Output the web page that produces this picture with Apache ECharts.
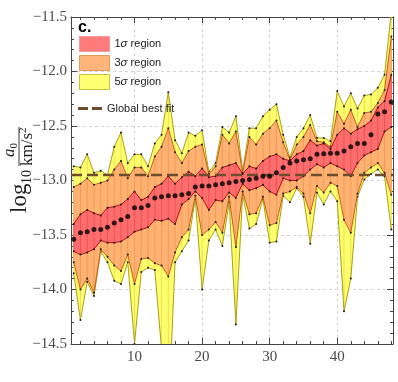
<!DOCTYPE html>
<html>
<head>
<meta charset="utf-8">
<style>
  html, body { margin: 0; padding: 0; background: #fff; }
  #chart { width: 398px; height: 382px; }
</style>
<script src="https://cdn.jsdelivr.net/npm/echarts@6/dist/echarts.min.js"></script>
</head>
<body>
<div id="chart"></div>
<script>
// galaxies, sorted by their best-fit a0
const galaxy = [1, 2, 3, 4, 5, 6, 7, 8, 9, 10, 11, 12, 13, 14, 15, 16,
  17, 18, 19, 20, 21, 22, 23, 24, 25, 26, 27, 28, 29, 30, 31, 32,
  33, 34, 35, 36, 37, 38, 39, 40, 41, 42, 43, 44, 45, 46, 47, 48];

// log10 a0 best fit per galaxy
const bestFit = [-13.54, -13.48, -13.47, -13.45, -13.45, -13.43, -13.39, -13.36, -13.33, -13.25, -13.25, -13.23, -13.16, -13.15, -13.14, -13.14,
  -13.13, -13.12, -13.06, -13.05, -13.05, -13.04, -13.03, -13.02, -13.01, -13.00, -12.99, -12.98, -12.96, -12.96, -12.93, -12.88,
  -12.84, -12.82, -12.81, -12.80, -12.76, -12.755, -12.75, -12.75, -12.73, -12.69, -12.66, -12.66, -12.58, -12.39, -12.37, -12.28];

// 1 sigma region
const sigma1Hi = [-13.40, -13.31, -13.27, -13.30, -13.32, -13.25, -13.24, -13.22, -13.17, -13.10, -13.18, -13.15, -13.06, -13.03, -12.96, -13.03,
  -12.97, -12.92, -12.96, -12.89, -12.97, -12.96, -12.88, -12.86, -12.84, -12.94, -12.87, -12.89, -12.82, -12.78, -12.76, -12.80,
  -12.82, -12.76, -12.73, -12.63, -12.68, -12.66, -12.71, -12.58, -12.52, -12.57, -12.53, -12.50, -12.45, -12.33, -12.27, -12.03];
const sigma1Lo = [-13.65, -13.68, -13.66, -13.63, -13.55, -13.57, -13.57, -13.56, -13.52, -13.47, -13.45, -13.43, -13.36, -13.37, -13.35, -13.40,
  -13.22, -13.17, -13.10, -13.16, -13.27, -13.18, -13.19, -13.11, -13.16, -13.03, -13.09, -13.07, -13.04, -13.10, -13.13, -12.98,
  -13.00, -13.00, -12.96, -12.90, -12.85, -12.88, -12.84, -12.87, -12.90, -12.96, -12.84, -12.77, -12.74, -12.71, -12.55, -12.51];

// 3 sigma region
const sigma3Hi = [-13.06, -13.03, -12.98, -13.04, -13.02, -13.00, -12.90, -12.82, -12.98, -12.88, -12.88, -12.96, -12.78, -12.69, -12.52, -12.74,
  -12.84, -12.73, -12.69, -12.67, -12.94, -12.87, -12.58, -12.66, -12.55, -12.93, -12.60, -12.67, -12.57, -12.52, -12.45, -12.65,
  -12.81, -12.67, -12.60, -12.49, -12.64, -12.65, -12.69, -12.37, -12.48, -12.35, -12.51, -12.38, -12.37, -12.29, -12.17, -11.68];
const sigma3Lo = [-13.75, -14.00, -13.90, -14.03, -13.63, -13.70, -13.78, -13.83, -13.68, -13.95, -13.72, -13.71, -13.76, -13.78, -13.88, -13.66,
  -13.52, -13.45, -13.14, -13.50, -13.45, -13.38, -13.48, -13.15, -13.61, -13.10, -13.31, -13.30, -13.15, -13.41, -13.39, -13.12,
  -13.10, -13.06, -13.12, -13.30, -13.05, -13.11, -13.02, -13.05, -13.36, -13.48, -13.12, -12.93, -12.88, -12.84, -12.93, -13.13];

// 5 sigma region
const sigma5Hi = [-12.87, -12.88, -12.76, -12.93, -12.91, -12.95, -12.69, -12.56, -12.84, -12.76, -12.76, -12.87, -12.66, -12.58, -12.19, -12.63,
  -12.75, -12.56, -12.59, -12.54, -12.92, -12.84, -12.51, -12.56, -12.41, -12.91, -12.52, -12.52, -12.41, -12.35, -12.30, -12.58,
  -12.79, -12.60, -12.52, -12.40, -12.61, -12.61, -12.64, -12.18, -12.32, -12.20, -12.34, -12.22, -12.21, -12.15, -12.03, -11.45];
const sigma5Lo = [-13.85, -14.28, -13.93, -14.06, -13.65, -13.75, -13.92, -13.95, -13.75, -14.50, -13.84, -13.80, -13.82, -14.55, -15.20, -13.75,
  -13.65, -13.55, -13.17, -14.00, -13.55, -13.45, -13.60, -13.20, -14.32, -13.13, -13.44, -13.40, -13.17, -13.57, -13.56, -13.14,
  -13.20, -13.07, -13.15, -13.58, -13.11, -13.22, -13.10, -13.19, -14.20, -13.90, -13.15, -12.99, -12.94, -12.90, -12.96, -13.45];

const globalBest = -12.95;

const xTicks = [10, 20, 30, 40];
const xMinorTicks = [2, 4, 6, 8, 12, 14, 16, 18, 22, 24, 26, 28, 32, 34, 36, 38, 42, 44, 46, 48];

const X_MIN = 0.6;
const X_MAX = 48.25;
const FRAME = '#444';
const BROWN = '#6e4c2c';
const SERIF = 'Liberation Serif';
const SANS = 'Liberation Sans';

// filled band between lo and hi, with vertical mesh, edges and vertex points
function bandRenderer(lo, hi, fill, mesh, edge) {
  return function (params, api) {
    const cs = params.coordSys;
    const top = galaxy.map((g, i) => api.coord([g, hi[i]]));
    const bot = galaxy.map((g, i) => api.coord([g, lo[i]]));
    const children = [{
      type: 'polygon',
      shape: { points: top.concat(bot.slice().reverse()) },
      style: { fill: fill }
    }];
    galaxy.forEach((g, i) => {
      children.push({
        type: 'line',
        shape: { x1: top[i][0], y1: top[i][1], x2: bot[i][0], y2: bot[i][1] },
        style: { stroke: mesh, lineWidth: 0.8 }
      });
    });
    [top, bot].forEach(pts => {
      children.push({
        type: 'polyline',
        shape: { points: pts },
        style: { stroke: edge, lineWidth: 1, fill: 'none' }
      });
    });
    top.concat(bot).forEach(p => {
      children.push({
        type: 'circle',
        shape: { cx: p[0], cy: p[1], r: 1 },
        style: { fill: '#1a1a1a' }
      });
    });
    return {
      type: 'group',
      children: children,
      clipPath: { type: 'rect', shape: { x: cs.x, y: cs.y, width: cs.width, height: cs.height } }
    };
  };
}

// horizontal dashed line for the global best fit
function globalRenderer(params, api) {
  const a = api.coord([X_MIN, globalBest]);
  const b = api.coord([X_MAX, globalBest]);
  return {
    type: 'line',
    shape: { x1: a[0], y1: a[1], x2: b[0], y2: b[1] },
    style: { stroke: BROWN, lineWidth: 2.5, lineDash: [11, 5] }
  };
}

function xAxisOf(position, ticks, len, main) {
  return {
    type: 'value',
    position: position,
    min: X_MIN,
    max: X_MAX,
    axisLine: { show: main, lineStyle: { color: FRAME, width: 1 } },
    axisTick: { show: true, inside: true, length: len, customValues: ticks, lineStyle: { color: FRAME } },
    axisLabel: {
      show: main && position === 'bottom',
      customValues: ticks,
      margin: 6,
      fontFamily: SERIF,
      fontSize: 15,
      color: '#4a4a4a'
    },
    splitLine: {
      show: main && position === 'bottom',
      lineStyle: { color: '#d4d4d4', type: [3, 3] }
    }
  };
}

function yAxisOf(position) {
  return {
    type: 'value',
    position: position,
    min: -14.5,
    max: -11.5,
    interval: 0.5,
    axisLine: { show: true, lineStyle: { color: FRAME, width: 1 } },
    axisTick: { show: true, inside: true, length: 6, lineStyle: { color: FRAME } },
    minorTick: { show: true, splitNumber: 5, length: 3, lineStyle: { color: FRAME } },
    axisLabel: {
      show: position === 'left',
      margin: 4,
      fontFamily: SERIF,
      fontSize: 15,
      color: '#4a4a4a',
      formatter: v => '\u2212' + Math.abs(v).toFixed(1)
    },
    splitLine: {
      show: position === 'left',
      lineStyle: { color: '#d4d4d4', type: [3, 3] }
    }
  };
}

const chart = echarts.init(document.getElementById('chart'), null, { renderer: 'canvas' });

const legendText = {
  fontFamily: SANS,
  fontSize: 11,
  color: '#222',
  rich: {
    n: { fontFamily: SANS, fontSize: 11, color: '#222' },
    s: { fontFamily: SANS, fontSize: 11.5, fontStyle: 'italic', color: '#222' }
  }
};

const titleText = (text, x, y, size, italic) => ({
  type: 'text',
  x: x,
  y: y,
  style: {
    text: text,
    font: (italic ? 'italic ' : '') + size + 'px "Liberation Serif"',
    fill: '#222',
    align: 'left',
    verticalAlign: 'middle'
  }
});

chart.setOption({
  animation: false,
  backgroundColor: '#fff',
  title: {
    text: 'c.',
    left: 78,
    top: 20,
    padding: 0,
    textStyle: { fontFamily: SANS, fontWeight: 'bold', fontSize: 16, color: '#000' }
  },
  grid: { left: 71, right: 5, top: 17, bottom: 38, outerBoundsMode: 'none' },
  legend: [{
    data: [
      { name: '1σ region', icon: 'rect', itemStyle: { color: '#ff7b7b', borderColor: '#f29a9a', borderWidth: 1 } },
      { name: '3σ region', icon: 'rect', itemStyle: { color: '#ffb57a', borderColor: '#e09a5c', borderWidth: 1 } },
      { name: '5σ region', icon: 'rect', itemStyle: { color: '#ffff72', borderColor: '#c8c042', borderWidth: 1 } }
    ],
    orient: 'vertical',
    left: 79,
    top: 36,
    padding: 0,
    itemWidth: 30,
    itemHeight: 15,
    itemGap: 3,
    selectedMode: false,
    formatter: name => '{n|' + name.charAt(0) + '}{s|σ}{n|' + name.slice(2) + '}',
    textStyle: legendText
  }, {
    data: [{
      name: 'Global best fit',
      icon: 'path://M0,0H10V3H0Z M14,0H24V3H14Z',
      itemStyle: { color: BROWN }
    }],
    orient: 'vertical',
    left: 78,
    top: 103,
    padding: 0,
    itemWidth: 24,
    itemHeight: 3,
    selectedMode: false,
    textStyle: { fontFamily: SANS, fontSize: 11, color: '#222' }
  }],
  xAxis: [
    xAxisOf('bottom', xTicks, 6, true),
    xAxisOf('bottom', xMinorTicks, 3, false),
    xAxisOf('top', xTicks, 6, true),
    xAxisOf('top', xMinorTicks, 3, false)
  ],
  yAxis: [yAxisOf('left'), yAxisOf('right')],
  graphic: [{
    // y axis title: log10 a0 / (km/s^2), rotated to read bottom-up
    type: 'group',
    x: 19,
    y: 213,
    rotation: Math.PI / 2,
    children: [
      titleText('log', 0, 1, 23, false),
      titleText('10', 29, 8, 14, false),
      titleText('a', 56, -9, 17, true),
      titleText('0', 64.5, -5, 11, false),
      { type: 'line', shape: { x1: 47, y1: 0, x2: 86, y2: 0 }, style: { stroke: '#222', lineWidth: 0.9 } },
      titleText('km/s', 47, 9, 17, false),
      titleText('2', 80, 4, 11, false)
    ]
  }],
  series: [
    {
      type: 'custom',
      name: '5σ region',
      renderItem: bandRenderer(sigma5Lo, sigma5Hi, '#ffff6e', '#e2dc48', '#aaa018'),
      data: [[galaxy[0], bestFit[0]]],
      itemStyle: { color: '#ffff72' },
      silent: true
    },
    {
      type: 'custom',
      name: '3σ region',
      renderItem: bandRenderer(sigma3Lo, sigma3Hi, '#ffb272', '#f0964e', '#c4601c'),
      data: [[galaxy[0], bestFit[0]]],
      itemStyle: { color: '#ffb57a' },
      silent: true
    },
    {
      type: 'custom',
      name: '1σ region',
      renderItem: bandRenderer(sigma1Lo, sigma1Hi, '#ff6e6e', '#e84c4c', '#b01010'),
      data: [[galaxy[0], bestFit[0]]],
      itemStyle: { color: '#ff7b7b' },
      silent: true
    },
    {
      type: 'custom',
      name: 'Global best fit',
      renderItem: globalRenderer,
      data: [[X_MIN, globalBest]],
      itemStyle: { color: BROWN },
      silent: true,
      z: 4
    },
    {
      type: 'scatter',
      name: 'best fit',
      data: galaxy.map((g, i) => [g, bestFit[i]]),
      symbolSize: 5,
      itemStyle: { color: '#000' },
      silent: true,
      z: 5
    }
  ]
});
</script>
</body>
</html>
